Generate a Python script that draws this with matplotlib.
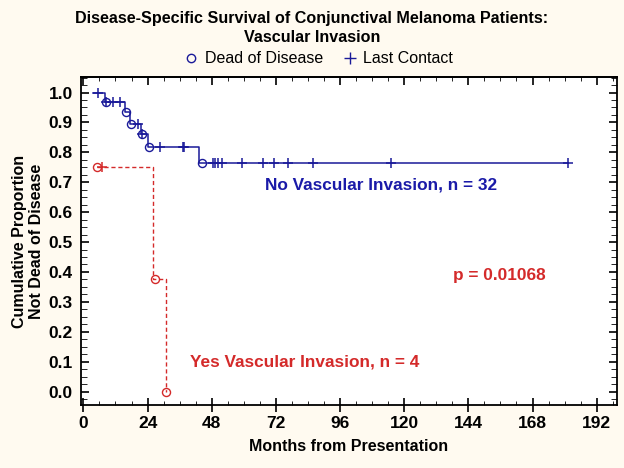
import matplotlib
matplotlib.use('Agg')
import matplotlib.pyplot as plt
from matplotlib.lines import Line2D
from matplotlib.ticker import MultipleLocator, FormatStrFormatter

plt.rcParams['font.family'] = ['Liberation Sans', 'DejaVu Sans']

# No vascular invasion (n = 32): step curve
no_times = [3.7, 8.1, 15.6, 17.5, 21.6, 24.3, 43.4, 181.4]
no_surv = [1.0, 0.967, 0.934, 0.896, 0.861, 0.819, 0.766, 0.766]
no_death_t = [8.5, 15.8, 17.7, 21.8, 24.7, 44.3]
no_death_s = [0.967, 0.934, 0.896, 0.861, 0.819, 0.766]
no_cens_t = [5.3, 8.5, 11.2, 13.7, 20.6, 21.8, 28.7, 37.2, 37.8,
             48.6, 49.3, 50.5, 51.8, 59.2, 67.3, 71.4, 76.7, 85.8, 115.1, 181.4]
no_cens_s = [1.0, 0.967, 0.967, 0.967, 0.896, 0.861, 0.819, 0.819, 0.819,
             0.766, 0.766, 0.766, 0.766, 0.766, 0.766, 0.766, 0.766, 0.766, 0.766, 0.766]

# Vascular invasion (n = 4)
yes_times = [5.0, 26.2, 30.8]
yes_surv = [0.75, 0.375, 0.0]
yes_death_t = [5.0, 26.6, 30.9]
yes_death_s = [0.75, 0.375, 0.0]
yes_cens_t = [6.9]
yes_cens_s = [0.75]

blue = '#1a1a99'
red = '#d42a2a'

fig = plt.figure(figsize=(6.24, 4.68), dpi=100)
fig.set_facecolor('#fffaf0')
ax = fig.add_axes([0.1298, 0.1346, 0.859, 0.7009])
ax.set_facecolor('#ffffff')

ax.step(no_times, no_surv, where='post', color=blue, lw=1.1)
ax.plot(no_death_t, no_death_s, 'o', mfc='none', mec=blue, ms=5.8, mew=1)
ax.plot(no_cens_t, no_cens_s, '+', color=blue, ms=6.5, mew=1.1)

ax.step(yes_times, yes_surv, where='post', color=red, lw=1, ls=(0, (3, 2)))
ax.plot(yes_death_t, yes_death_s, 'o', mfc='none', mec=red, ms=5.8, mew=1)
ax.plot(yes_cens_t, yes_cens_s, '+', color=red, ms=6.5, mew=1.1)

ax.set_xlim(-0.9, 199.6)
ax.set_ylim(-0.045, 1.052)
ax.xaxis.set_major_locator(MultipleLocator(24))
ax.xaxis.set_minor_locator(MultipleLocator(6))
ax.yaxis.set_major_locator(MultipleLocator(0.1))
ax.yaxis.set_minor_locator(MultipleLocator(0.025))
ax.yaxis.set_major_formatter(FormatStrFormatter('%.1f'))
ax.tick_params(axis='x', which='major', direction='inout', length=10, width=1.2,
               labelsize=12.5, pad=3)
ax.tick_params(axis='x', which='minor', direction='in', length=3)
ax.tick_params(axis='y', which='major', direction='in', length=6, width=1.2,
               right=True, labelsize=12.5, pad=6)
ax.tick_params(axis='y', which='minor', direction='in', length=4, right=True)
for lab in ax.get_xticklabels() + ax.get_yticklabels():
    lab.set_fontweight('bold')
for s in ax.spines.values():
    s.set_linewidth(1.3)

# top ticks pointing inward only
top = ax.secondary_xaxis('top')
top.xaxis.set_major_locator(MultipleLocator(24))
top.xaxis.set_minor_locator(MultipleLocator(6))
top.tick_params(which='major', direction='in', length=6, width=1.2, labeltop=False)
top.tick_params(which='minor', direction='in', length=3)
top.spines['top'].set_linewidth(1.3)

ax.set_xlabel('Months from Presentation', fontsize=11.5, fontweight='bold', labelpad=6)
ax.set_ylabel('Cumulative Proportion\nNot Dead of Disease', fontsize=11.5,
              fontweight='bold', labelpad=3)

ax.text(67.9, 0.691, 'No Vascular Invasion, n = 32', color='#1a1aa8',
        fontsize=12.4, fontweight='bold', va='center')
ax.text(138.3, 0.387, 'p = 0.01068', color=red, fontsize=12.4,
        fontweight='bold', va='center')
ax.text(39.9, 0.099, 'Yes Vascular Invasion, n = 4', color=red,
        fontsize=12.4, fontweight='bold', va='center')

fig.text(0.5, 0.960, 'Disease-Specific Survival of Conjunctival Melanoma Patients:',
         ha='center', va='center', fontsize=11.6, fontweight='bold')
fig.text(0.5, 0.919, 'Vascular Invasion', ha='center', va='center',
         fontsize=11.6, fontweight='bold')

# legend row
fig.add_artist(Line2D([191 / 624], [0.876], marker='o', ls='none', mfc='none',
                      mec=blue, ms=6, mew=1, transform=fig.transFigure))
fig.text(0.329, 0.876, 'Dead of Disease', ha='left', va='center', fontsize=11.5)
fig.add_artist(Line2D([350 / 624], [0.876], marker='+', ls='none', color=blue,
                      ms=8, mew=1, transform=fig.transFigure))
fig.text(0.581, 0.876, 'Last Contact', ha='left', va='center', fontsize=11.5)

fig.savefig('out.png', dpi=100, facecolor=fig.get_facecolor())
